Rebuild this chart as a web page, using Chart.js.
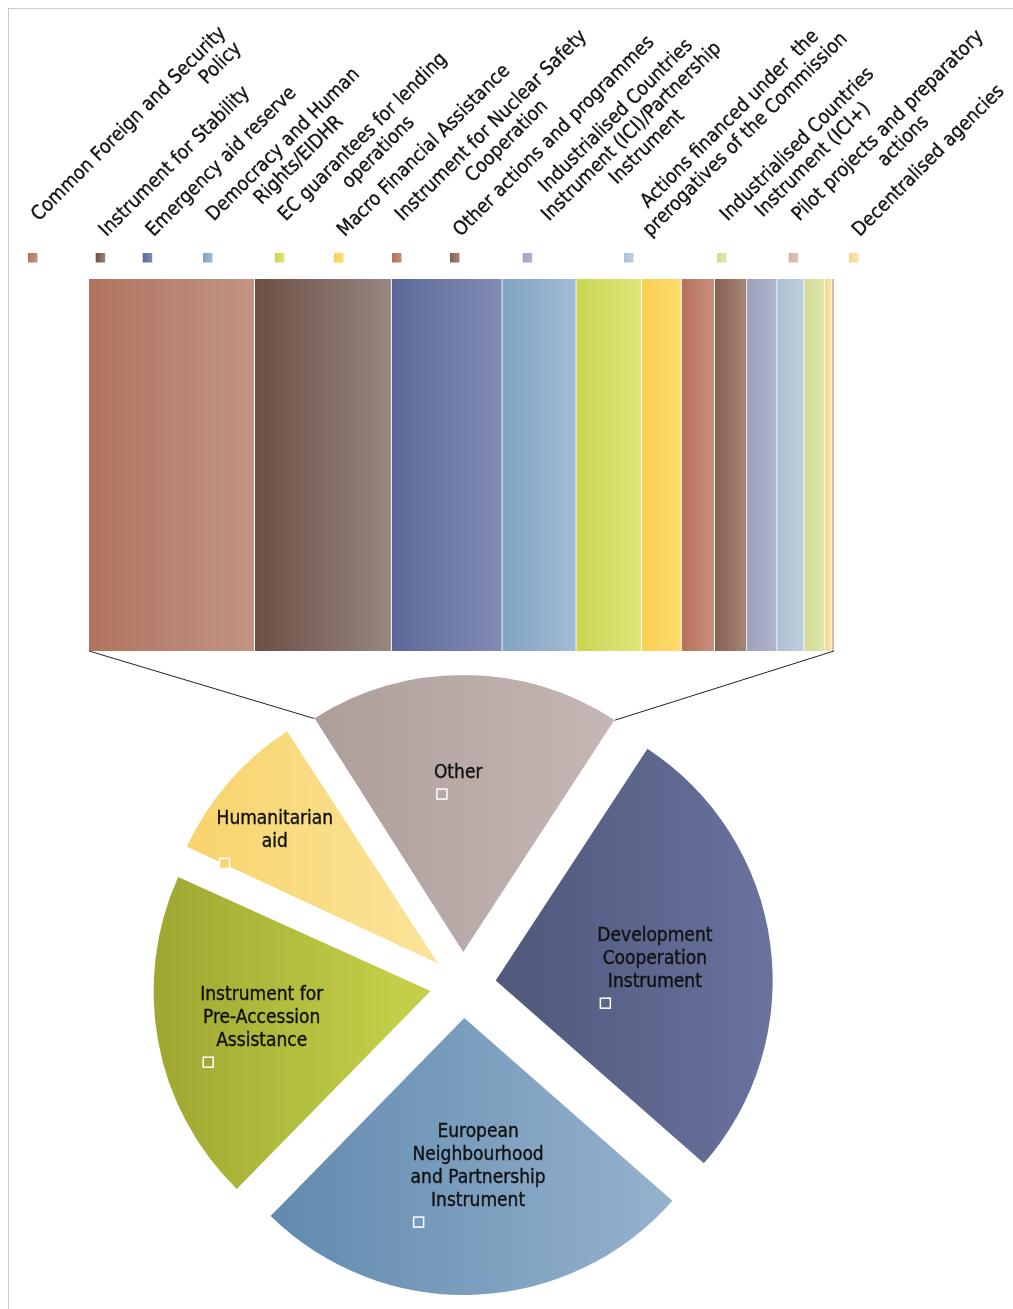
<!DOCTYPE html>
<html>
<head>
<meta charset="utf-8">
<script src="https://cdn.jsdelivr.net/npm/chart.js@4.4.1/dist/chart.umd.min.js"></script>
<style>
  html, body { margin: 0; padding: 0; background: #fff; }
  #wrap { position: relative; width: 1013px; height: 1309px; overflow: hidden; }
  #frame { position: absolute; left: 8px; top: 8px; width: 1100px; height: 1400px;
           border-left: 1px solid #cbcbcb; border-top: 1px solid #cbcbcb; }
  canvas { position: absolute; left: 0; top: 0; }
</style>
</head>
<body>
<div id="wrap">
  <div id="frame"></div>
  <canvas id="bar" width="1013" height="1309"></canvas>
  <canvas id="pie" width="1013" height="1309"></canvas>
</div>
<script>
// Main instruments (EUR million); the "Other" slice is the sum of the breakdown below
const pieNames = [
  ['Development', 'Cooperation', 'Instrument'],
  ['European', 'Neighbourhood', 'and Partnership', 'Instrument'],
  ['Instrument for', 'Pre-Accession', 'Assistance'],
  ['Humanitarian', 'aid'],
  ['Other']
];
const pieValues = [2208, 2095, 1577, 744];

// Breakdown of "Other" (EUR million), legend order
const otherNames = [
  ['Common Foreign and Security', 'Policy'],
  ['Instrument for Stability'],
  ['Emergency aid reserve'],
  ['Democracy and Human', 'Rights/EIDHR'],
  ['EC guarantees for lending', 'operations'],
  ['Macro Financial Assistance'],
  ['Instrument for Nuclear Safety', 'Cooperation'],
  ['Other actions and programmes'],
  ['Industrialised Countries', 'Instrument (ICI)/Partnership', 'Instrument'],
  ['Actions financed under  the', 'prerogatives of the Commission'],
  ['Industrialised Countries', 'Instrument (ICI+)'],
  ['Pilot projects and preparatory', 'actions'],
  ['Decentralised agencies']
];
const otherValues = [329, 272, 220, 147, 130, 79, 66, 64, 60, 54, 41, 4, 14];
// order of the segments inside the bar
const barOrder = [0, 1, 2, 3, 4, 5, 6, 7, 8, 9, 10, 12, 11];

const otherTotal = otherValues.reduce((a, b) => a + b, 0);

// left -> right shading of each breakdown item
const otherShades = [
  ['#b07360', '#c29483'], ['#6c4f45', '#978680'], ['#5c6898', '#828cb6'],
  ['#80a3c0', '#a2bcd6'], ['#c9d552', '#e0e67c'], ['#fad052', '#fddb6e'],
  ['#b6705c', '#c8907d'], ['#87614f', '#a7857b'], ['#9ea2bc', '#b0b4cc'],
  ['#aac0d2', '#c0cede'], ['#d2da96', '#e1e6ac'], ['#d5b2a8', '#dcc0b8'],
  ['#f7d68c', '#fce4aa']
];
const pieShades = [
  ['#525a7e', '#6c76a2'], ['#618aaf', '#96b2cd'], ['#98a22e', '#c4ce48'],
  ['#f7d266', '#fae296'], ['#ad9e9a', '#c5b7b4']
];

const legendX = [28, 95.7, 142.7, 203, 275, 334, 392, 450, 522.7, 624, 717, 788.7, 849];
// where each slice label sits: distance from the slice tip (share of radius) and a small turn in degrees
const labelReach = [0.577, 0.564, 0.622, 0.743, 0.621];
const labelTurn = [2.6, -2.9, -0.8, -3.4, -2];

const FONT = '"DejaVu Sans Condensed", "DejaVu Sans", sans-serif';
const INK = '#111';
const pieRadius = 277;
const explode = 33;

function hGrad(ctx, x0, x1, pair) {
  const g = ctx.createLinearGradient(x0, 0, x1, 0);
  g.addColorStop(0, pair[0]);
  g.addColorStop(1, pair[1]);
  return g;
}

function inkText(ctx, t, x, y) {
  ctx.fillText(t, x, y);
  ctx.strokeText(t, x, y);
}

// horizontal shading for each stacked segment
const shadeBars = {
  id: 'shadeBars',
  beforeDatasetsDraw(chart) {
    chart.data.datasets.forEach((ds, d) => {
      chart.getDatasetMeta(d).data.forEach(bar => {
        const x0 = Math.min(bar.base, bar.x), x1 = Math.max(bar.base, bar.x);
        bar.options.backgroundColor = hGrad(chart.ctx, x0, x1, otherShades[ds.item]);
      });
    });
  }
};

// legend with text at -45 degrees
const slantLegend = {
  id: 'slantLegend',
  afterDraw(chart) {
    const ctx = chart.ctx;
    const lh = 22;
    ctx.save();
    ctx.font = '19.5px ' + FONT;
    ctx.textBaseline = 'alphabetic';
    ctx.strokeStyle = INK;
    ctx.lineWidth = 0.35;
    otherNames.forEach((lines, i) => {
      const sx = legendX[i];
      ctx.fillStyle = hGrad(ctx, sx, sx + 9.5, otherShades[i]);
      ctx.fillRect(sx, 253, 9.5, 9.5);
      ctx.fillStyle = INK;
      const widths = lines.map(t => ctx.measureText(t).width);
      const W = Math.max(...widths);
      const H = lines.length * lh;
      ctx.save();
      ctx.translate(sx - 0.5, 241.5 - H * Math.SQRT1_2);
      ctx.rotate(-Math.PI / 4);
      lines.forEach((t, j) => {
        const off = i === 0 ? W - widths[j] : (W - widths[j]) / 2;
        inkText(ctx, t, off, j * lh + 16);
      });
      ctx.restore();
    });
    ctx.restore();
  }
};

const barChart = new Chart(document.getElementById('bar'), {
  type: 'bar',
  data: {
    labels: ['Other'],
    datasets: barOrder.map((item, k) => ({
      label: otherNames[item].join(' '),
      item: item,
      data: [otherValues[item]],
      backgroundColor: otherShades[item][0],
      borderColor: 'rgba(255,255,255,0.9)',
      borderWidth: k === barOrder.length - 1 ? 0 : { right: 1 },
      borderSkipped: false,
      barPercentage: 1,
      categoryPercentage: 1
    }))
  },
  options: {
    indexAxis: 'y',
    responsive: false,
    animation: false,
    layout: { padding: { left: 89, right: 179, top: 279, bottom: 658 } },
    scales: {
      x: { stacked: true, display: false, min: 0, max: otherTotal },
      y: { stacked: true, display: false }
    },
    plugins: { legend: { display: false }, tooltip: { enabled: false } }
  },
  plugins: [shadeBars, slantLegend]
});

function vertexOf(arc) {
  const mid = (arc.startAngle + arc.endAngle) / 2;
  return { x: arc.x + Math.cos(mid) * explode, y: arc.y + Math.sin(mid) * explode, mid };
}

// shading per slice, and undo the radius growth Chart.js gives offset arcs
const shadePie = {
  id: 'shadePie',
  beforeDatasetsDraw(chart) {
    chart.getDatasetMeta(0).data.forEach((arc, i) => {
      const fix = 1 - Math.sin(Math.min(Math.PI, arc.circumference));
      arc.outerRadius = pieRadius - explode * fix;
      const v = vertexOf(arc);
      let lo = v.x, hi = v.x;
      for (let k = 0; k <= 60; k++) {
        const a = arc.startAngle + (arc.endAngle - arc.startAngle) * k / 60;
        const x = v.x + Math.cos(a) * pieRadius;
        lo = Math.min(lo, x);
        hi = Math.max(hi, x);
      }
      arc.options.backgroundColor = hGrad(chart.ctx, lo, hi, pieShades[i]);
    });
  }
};

const pieText = {
  id: 'pieText',
  afterDatasetsDraw(chart) {
    const ctx = chart.ctx;
    const lh = 23;
    ctx.save();
    ctx.font = '19px ' + FONT;
    ctx.textAlign = 'center';
    ctx.textBaseline = 'middle';
    chart.getDatasetMeta(0).data.forEach((arc, i) => {
      const lines = pieNames[i];
      const v = vertexOf(arc);
      const ang = v.mid + labelTurn[i] * Math.PI / 180;
      const d = labelReach[i] * pieRadius;
      const cx = v.x + Math.cos(ang) * d;
      const cy = v.y + Math.sin(ang) * d;
      const top = cy - (lines.length * lh + 16) / 2;
      ctx.fillStyle = INK;
      ctx.strokeStyle = INK;
      ctx.lineWidth = 0.35;
      lines.forEach((t, j) => inkText(ctx, t, cx, top + j * lh + lh / 2 + 1));
      const w = Math.max(...lines.map(t => ctx.measureText(t).width));
      const mx = cx - w / 2 + 3, my = top + lines.length * lh + 5.5;
      ctx.fillStyle = arc.options.backgroundColor;
      ctx.fillRect(mx, my, 10, 10);
      ctx.strokeStyle = '#fff';
      ctx.lineWidth = 1.5;
      ctx.strokeRect(mx, my, 10, 10);
    });
    ctx.restore();
  }
};

// lines from the bottom corners of the bar to the "Other" slice
const connector = {
  id: 'connector',
  afterDraw(chart) {
    const arc = chart.getDatasetMeta(0).data[4];
    const v = vertexOf(arc);
    const a = { x: v.x + Math.cos(arc.startAngle) * pieRadius, y: v.y + Math.sin(arc.startAngle) * pieRadius };
    const b = { x: v.x + Math.cos(arc.endAngle) * pieRadius, y: v.y + Math.sin(arc.endAngle) * pieRadius };
    const xs = barChart.scales.x;
    const yb = barChart.chartArea.bottom;
    const ctx = chart.ctx;
    ctx.save();
    ctx.strokeStyle = '#222';
    ctx.lineWidth = 1;
    ctx.beginPath();
    ctx.moveTo(xs.getPixelForValue(0), yb);
    ctx.lineTo(a.x, a.y);
    ctx.moveTo(xs.getPixelForValue(otherTotal), yb);
    ctx.lineTo(b.x, b.y);
    ctx.stroke();
    ctx.restore();
  }
};

new Chart(document.getElementById('pie'), {
  type: 'pie',
  data: {
    labels: pieNames.map(l => l.join(' ')),
    datasets: [{
      data: pieValues.concat([otherTotal]),
      backgroundColor: pieShades.map(p => p[0]),
      borderWidth: 0,
      offset: explode * 4
    }]
  },
  options: {
    responsive: false,
    animation: false,
    rotation: 33.2,
    radius: pieRadius,
    layout: { padding: { left: 163, right: 250, top: 685, bottom: 24 } },
    plugins: { legend: { display: false }, tooltip: { enabled: false } }
  },
  plugins: [shadePie, pieText, connector]
});
</script>
</body>
</html>
